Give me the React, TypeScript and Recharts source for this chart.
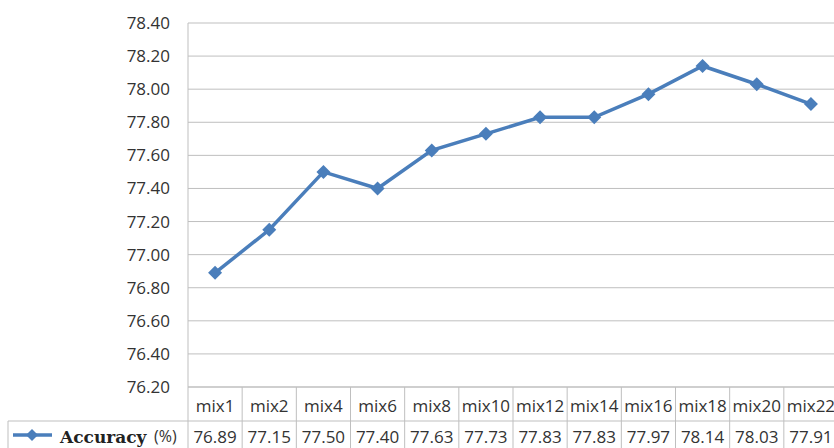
import { LineChart, Line, XAxis, YAxis, CartesianGrid } from 'recharts';

// categories along the x axis / data table
const categories = ['mix1', 'mix2', 'mix4', 'mix6', 'mix8', 'mix10', 'mix12', 'mix14', 'mix16', 'mix18', 'mix20', 'mix22'];
// accuracy (%) per mix
const accuracy = [76.89, 77.15, 77.5, 77.4, 77.63, 77.73, 77.83, 77.83, 77.97, 78.14, 78.03, 77.91];
// y axis ticks
const yTicks = [76.2, 76.4, 76.6, 76.8, 77.0, 77.2, 77.4, 77.6, 77.8, 78.0, 78.2, 78.4];

const data = categories.map((name, i) => ({ name, value: accuracy[i] }));

const CHART_W = 850;
const CHART_H = 470;
const MARGIN = { top: 23, right: 12, bottom: 0, left: 0 };
const Y_AXIS_W = 188;
const PLOT_W = CHART_W - MARGIN.left - MARGIN.right - Y_AXIS_W;

const LINE_COLOR = '#4a7ebb';
const GRID = '#bfbfbf';
const TEXT = '#333333';
const SANS = '"Open Sans", sans-serif';

const Diamond = ({ cx, cy, r = 7 }: { cx: number; cy: number; r?: number }) => (
  <polygon
    points={`${cx},${cy - r} ${cx + r},${cy} ${cx},${cy + r} ${cx - r},${cy}`}
    fill={LINE_COLOR}
  />
);

const renderDot = (props: any) => {
  const { cx, cy, index } = props;
  return <Diamond key={`d-${index}`} cx={cx} cy={cy} />;
};

// draws the data table below the plot, one column per category tick
const renderTableTick = (props: any) => {
  const { x, y, payload } = props;
  const bw = PLOT_W / categories.length;
  const left = x - bw / 2;
  const right = x + bw / 2;
  const idx = payload.index;
  return (
    <g>
      {idx === 0 && <line x1={left} y1={y} x2={left} y2={y + 90} stroke={GRID} />}
      <line x1={right} y1={y} x2={right} y2={y + 90} stroke={GRID} />
      <line x1={left} y1={y + 34} x2={right} y2={y + 34} stroke={GRID} />
      <text x={x} y={y + 25} textAnchor="middle" fontSize={17} fill={TEXT} fontFamily={SANS}>
        {payload.value}
      </text>
      <text x={x} y={y + 56} textAnchor="middle" fontSize={17} fill={TEXT} fontFamily={SANS}>
        {accuracy[idx].toFixed(2)}
      </text>
      {idx === 0 && (
        <g>
          <line x1={8} y1={y + 34} x2={left} y2={y + 34} stroke={GRID} />
          <line x1={8} y1={y + 34} x2={8} y2={y + 90} stroke={GRID} />
          <line x1={13} y1={y + 48} x2={52} y2={y + 48} stroke={LINE_COLOR} strokeWidth={3.5} />
          <Diamond cx={32} cy={y + 48} r={6} />
          <text x={60} y={y + 56} fontSize={17} fontWeight="bold" fill="#222" fontFamily='"DejaVu Serif", serif'>
            Accuracy
          </text>
          <text x={154} y={y + 55} fontSize={16} fill={TEXT} fontFamily={SANS}>
            (%)
          </text>
        </g>
      )}
    </g>
  );
};

export default function App() {
  return (
    <div
      style={{
        position: 'absolute',
        left: 0,
        top: 0,
        width: 834,
        height: 448,
        overflow: 'hidden',
        background: '#fff',
      }}
    >
      <LineChart width={CHART_W} height={CHART_H} data={data} margin={MARGIN}>
        <CartesianGrid vertical={false} stroke={GRID} />
        <XAxis
          dataKey="name"
          scale="band"
          interval={0}
          height={CHART_H - 387 - MARGIN.bottom}
          axisLine={{ stroke: GRID }}
          tickLine={false}
          tickSize={0}
          tickMargin={0}
          tick={renderTableTick}
        />
        <YAxis
          type="number"
          domain={[76.2, 78.4]}
          ticks={yTicks}
          interval={0}
          width={Y_AXIS_W}
          tickFormatter={(v: number) => v.toFixed(2)}
          axisLine={{ stroke: GRID }}
          tickLine={false}
          tickSize={0}
          tickMargin={18}
          tick={{ fontSize: 17, fill: TEXT, fontFamily: SANS }}
        />
        <Line
          type="linear"
          dataKey="value"
          stroke={LINE_COLOR}
          strokeWidth={3.5}
          dot={renderDot}
          activeDot={false}
          isAnimationActive={false}
        />
      </LineChart>
    </div>
  );
}
